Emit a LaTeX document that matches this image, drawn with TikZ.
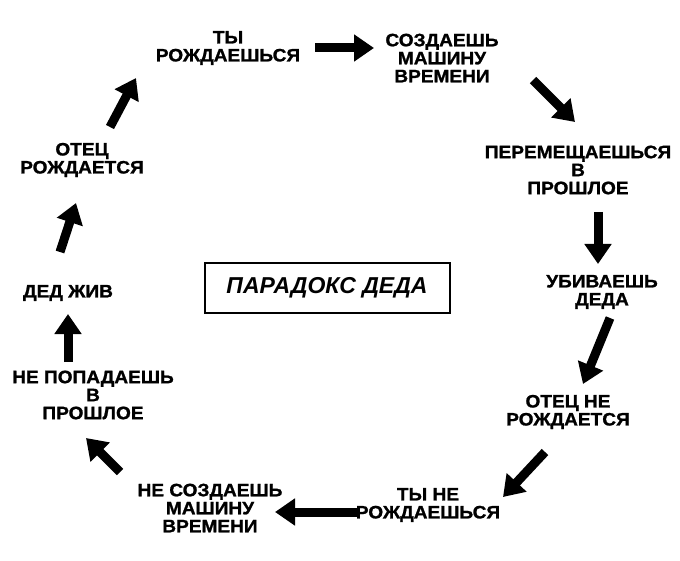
\documentclass[tikz,border=0pt]{standalone}
\usepackage{fontspec}
\setmainfont{Liberation Sans}
\newfontfamily\stepfont[FakeStretch=1.06,FakeBold=1.2]{Liberation Sans Bold}
\usetikzlibrary{arrows.meta}

\begin{document}
\begin{tikzpicture}[x=1pt,y=-1pt,line cap=butt,
  step label/.style={font=\stepfont\fontsize{18}{18}\selectfont,align=center,inner sep=1pt},
  big arrow/.style={line width=9pt,-{Triangle[width=26pt,length=20pt]}}]
\useasboundingbox (0,0) rectangle (680,561);
% steps of the loop
\node[step label] (born) at (228,48) {ТЫ\\РОЖДАЕШЬСЯ};
\node[step label] (machine) at (442,58) {СОЗДАЕШЬ\\МАШИНУ\\ВРЕМЕНИ};
\node[step label] (travel) at (578,170) {ПЕРЕМЕЩАЕШЬСЯ\\В\\ПРОШЛОЕ};
\node[step label] (kill) at (602,292) {УБИВАЕШЬ\\ДЕДА};
\node[step label] (nofather) at (568,412) {ОТЕЦ НЕ\\РОЖДАЕТСЯ};
\node[step label] (notborn) at (428,505) {ТЫ НЕ\\РОЖДАЕШЬСЯ};
\node[step label] (nomachine) at (210,508) {НЕ СОЗДАЕШЬ\\МАШИНУ\\ВРЕМЕНИ};
\node[step label] (notravel) at (93,395) {НЕ ПОПАДАЕШЬ\\В\\ПРОШЛОЕ};
\node[step label] (alive) at (68,293) {ДЕД ЖИВ};
\node[step label] (father) at (82,160) {ОТЕЦ\\РОЖДАЕТСЯ};
% title box
\node[draw,line width=2pt,minimum width=245pt,minimum height=50pt,
  font=\bfseries\itshape\fontsize{23}{24}\selectfont] (title) at (327,288) {ПАРАДОКС ДЕДА};
% arrows
\draw[big arrow] (315,48) -- (374,48);
\draw[big arrow] (533,80) -- (575,122);
\draw[big arrow] (598,212) -- (598,264);
\draw[big arrow] (610,318) -- (583,384);
\draw[big arrow] (545,452) -- (503,497);
\draw[big arrow] (360,512) -- (275,512);
\draw[big arrow] (120,472) -- (86,438);
\draw[big arrow] (68,362) -- (68,314);
\draw[big arrow] (60,252) -- (76,203);
\draw[big arrow] (110,127) -- (136,78);
\end{tikzpicture}
\end{document}
